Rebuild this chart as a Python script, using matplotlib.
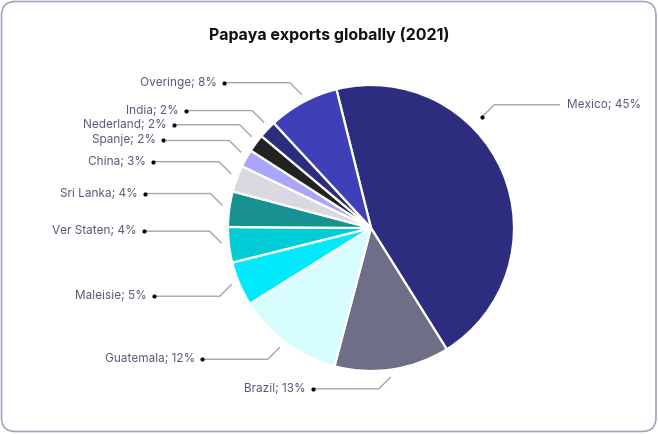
import numpy as np
import matplotlib.pyplot as plt
from matplotlib.patches import FancyBboxPatch

plt.rcParams['font.family'] = ['Inter', 'DejaVu Sans']

countries = ["Mexico", "Brazil", "Guatemala", "Maleisie", "Ver Staten", "Sri Lanka",
             "China", "Spanje", "Nederland", "India", "Overinge"]
shares = [45, 13, 12, 5, 4, 4, 3, 2, 2, 2, 8]
colors = ["#2d2d80", "#6e6e87", "#d6fcfd", "#00eafb", "#00cdd6", "#179191",
          "#d9d9e2", "#a9a6fa", "#222222", "#2d2d80", "#3f40b8"]

W, H = 658, 434
cx, cy, r = 371, H - 228, 143
start = 104

fig = plt.figure(figsize=(W / 100, H / 100), dpi=100)
ax = fig.add_axes([0, 0, 1, 1])

card = FancyBboxPatch((1.5, 2.5), W - 3.5, H - 4, boxstyle="round,pad=0,rounding_size=14",
                      facecolor="white", edgecolor="#a3a3bd", linewidth=1.2)
ax.add_patch(card)

wedges, _ = ax.pie(shares, colors=colors, startangle=start, counterclock=False,
                   center=(cx, cy), radius=r,
                   wedgeprops=dict(edgecolor="white", linewidth=1.6))

ax.text(W / 2, H - 35, "Papaya exports globally (2021)", ha="center", va="center",
        fontsize=11.5, fontweight="bold", color="#111111")

line_col = "#a6a6a6"
text_col = "#5a5a78"
for w, name, val in zip(wedges, countries, shares):
    mid = 0.5 * (w.theta1 + w.theta2) - 1
    rr = 1.05
    if name == "Mexico":
        mid, rr = 45, 1.1
    ax_ = cx + rr * r * np.cos(np.deg2rad(mid))
    ay_ = cy + rr * r * np.sin(np.deg2rad(mid))
    right = np.cos(np.deg2rad(mid)) > 0.5
    up = np.sin(np.deg2rad(mid)) > -0.15
    sx = 1 if right else -1
    sy = 1 if up else -1
    ex, ey = ax_ + sx * 12, ay_ + sy * 12
    hx = ex + sx * 66
    ax.plot([ax_, ex, hx], [ay_, ey, ey], color=line_col, lw=1, solid_capstyle="butt")
    if right:
        ax.plot(ax_, ay_, "o", color="black", ms=2)
        ax.text(hx + 7, ey, f"{name}; {val}%", ha="left", va="center",
                fontsize=8.5, color=text_col)
    else:
        ax.plot(hx, ey, "o", color="black", ms=2)
        ax.text(hx - 7, ey, f"{name}; {val}%", ha="right", va="center",
                fontsize=8.5, color=text_col)

ax.set_xlim(0, W)
ax.set_ylim(0, H)
ax.set_aspect("equal")
ax.axis("off")

fig.savefig("out.png", dpi=100)
